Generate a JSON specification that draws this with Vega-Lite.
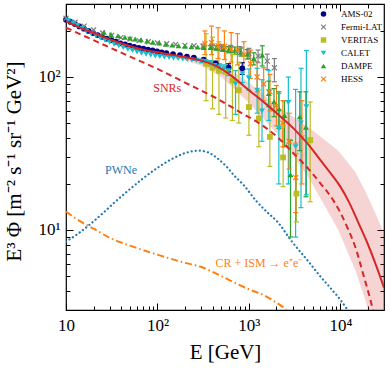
{
 "$schema": "https://vega.github.io/schema/vega-lite/v6.json",
 "width": 318, "height": 306,
 "autosize": {"type": "none"},
 "padding": {"left": 66, "top": 4, "right": 6, "bottom": 59},
 "background": "white",
 "config": {
  "view": {"stroke": "black", "strokeWidth": 1.2},
  "font": "Liberation Serif"
 },
 "datasets": {
  "tot": [{"E":10,"F":232},{"E":12,"F":220},{"E":15,"F":207},{"E":20,"F":194},{"E":25,"F":184},{"E":30,"F":176},{"E":40,"F":166},{"E":50,"F":159},{"E":70,"F":151},{"E":100,"F":145},{"E":150,"F":139},{"E":200,"F":135},{"E":300,"F":128},{"E":400,"F":121},{"E":500,"F":113},{"E":700,"F":98},{"E":1000,"F":82},{"E":1500,"F":67.5},{"E":2000,"F":58.1},{"E":3090,"F":46},{"E":4500,"F":36},{"E":6050,"F":28.6},{"E":8000,"F":23.1},{"E":10000,"F":19.2},{"E":12500,"F":15.1},{"E":15800,"F":11.1},{"E":20000,"F":8.07},{"E":24000,"F":6.1},{"E":30000,"F":4.2}],
  "snr": [{"E":10,"F":210},{"E":20,"F":174},{"E":50,"F":136},{"E":100,"F":113},{"E":200,"F":92},{"E":415,"F":74},{"E":881,"F":57},{"E":1285,"F":50},{"E":2000,"F":41},{"E":3090,"F":31.6},{"E":4500,"F":25},{"E":6050,"F":20.2},{"E":8450,"F":15.5},{"E":10000,"F":13},{"E":12000,"F":10.3},{"E":14500,"F":7.8},{"E":18000,"F":5.0},{"E":21300,"F":3.5},{"E":23000,"F":2.9},{"E":25000,"F":2.3}],
  "pwn": [{"E":10,"F":8.4},{"E":14,"F":9.6},{"E":18,"F":10.8},{"E":25,"F":12.8},{"E":35,"F":15.4},{"E":50,"F":18.5},{"E":70,"F":21.8},{"E":100,"F":25.5},{"E":150,"F":29.5},{"E":200,"F":31.8},{"E":280,"F":33},{"E":350,"F":32.3},{"E":450,"F":29.5},{"E":550,"F":26.5},{"E":700,"F":22.5},{"E":880,"F":19.6},{"E":1200,"F":15.5},{"E":1600,"F":13.0},{"E":2000,"F":11.5},{"E":3000,"F":8.3},{"E":4500,"F":6.2},{"E":6000,"F":5.0},{"E":8000,"F":4.1},{"E":10000,"F":3.5},{"E":12000,"F":3.0},{"E":13000,"F":2.8}],
  "sec": [{"E":10,"F":13.2},{"E":12,"F":12.2},{"E":15,"F":11.2},{"E":20,"F":10.2},{"E":30,"F":8.9},{"E":50,"F":7.9},{"E":100,"F":6.9},{"E":200,"F":6.1},{"E":283,"F":5.8},{"E":500,"F":5.0},{"E":658,"F":4.6},{"E":1000,"F":4.1},{"E":1520,"F":3.7},{"E":2000,"F":3.35},{"E":2600,"F":3.0},{"E":3000,"F":2.8}],
  "band": [{"E":10,"lo":230,"hi":234},{"E":30,"lo":172,"hi":179},{"E":100,"lo":139,"hi":148},{"E":200,"lo":128,"hi":140},{"E":300,"lo":119,"hi":134},{"E":500,"lo":100,"hi":123},{"E":1000,"lo":68,"hi":92},{"E":2000,"lo":43,"hi":65},{"E":4500,"lo":22,"hi":47},{"E":9500,"lo":10,"hi":33},{"E":14500,"lo":5.5,"hi":24},{"E":18700,"lo":3.5,"hi":18},{"E":24000,"lo":2.0,"hi":13},{"E":30000,"lo":1.2,"hi":9.5}],
  "labels": [{"E":128,"F":84.4,"t":"SNRs"},{"E":40,"F":24.6,"t":"PWNe"},{"E":1285,"F":6.1,"t":"CR + ISM → e⁺e⁻"}],
  "obs": [
   {"s":"AMS-02","E":10,"F":237},{"s":"AMS-02","E":11.2,"F":229},{"s":"AMS-02","E":12.5,"F":222},{"s":"AMS-02","E":14,"F":214},{"s":"AMS-02","E":15.7,"F":207},{"s":"AMS-02","E":17.6,"F":200},{"s":"AMS-02","E":19.8,"F":194},{"s":"AMS-02","E":22.2,"F":188},{"s":"AMS-02","E":24.9,"F":183},{"s":"AMS-02","E":27.9,"F":178},{"s":"AMS-02","E":31.3,"F":174},{"s":"AMS-02","E":35.1,"F":170},{"s":"AMS-02","E":39.4,"F":166},{"s":"AMS-02","E":44.2,"F":163},{"s":"AMS-02","E":49.6,"F":160},{"s":"AMS-02","E":55.7,"F":157},{"s":"AMS-02","E":62.5,"F":155},{"s":"AMS-02","E":70.2,"F":153},{"s":"AMS-02","E":78.8,"F":151},{"s":"AMS-02","E":88.4,"F":149},{"s":"AMS-02","E":99.2,"F":147},{"s":"AMS-02","E":111,"F":145},{"s":"AMS-02","E":125,"F":143},{"s":"AMS-02","E":148,"F":141},{"s":"AMS-02","E":176,"F":139},{"s":"AMS-02","E":210,"F":136},{"s":"AMS-02","E":250,"F":134},{"s":"AMS-02","E":320,"F":130},{"s":"AMS-02","E":434,"F":122,"lo":117,"hi":127},{"s":"AMS-02","E":600,"F":115,"lo":108,"hi":122},{"s":"AMS-02","E":845,"F":114,"lo":104,"hi":124},
   {"s":"Fermi-LAT","E":10,"F":242},{"s":"Fermi-LAT","E":12.6,"F":228},{"s":"Fermi-LAT","E":15.8,"F":215},{"s":"Fermi-LAT","E":20,"F":203},{"s":"Fermi-LAT","E":25.1,"F":194},{"s":"Fermi-LAT","E":31.6,"F":187},{"s":"Fermi-LAT","E":39.8,"F":181},{"s":"Fermi-LAT","E":50.1,"F":177},{"s":"Fermi-LAT","E":63.1,"F":173},{"s":"Fermi-LAT","E":79.4,"F":170},{"s":"Fermi-LAT","E":100,"F":167},{"s":"Fermi-LAT","E":126,"F":165},{"s":"Fermi-LAT","E":158,"F":163},{"s":"Fermi-LAT","E":200,"F":161},{"s":"Fermi-LAT","E":251,"F":160},{"s":"Fermi-LAT","E":316,"F":159,"lo":154,"hi":164},{"s":"Fermi-LAT","E":398,"F":158,"lo":152,"hi":164},{"s":"Fermi-LAT","E":501,"F":156,"lo":149,"hi":163},{"s":"Fermi-LAT","E":631,"F":153,"lo":145,"hi":161},{"s":"Fermi-LAT","E":794,"F":149,"lo":140,"hi":158},{"s":"Fermi-LAT","E":1000,"F":143,"lo":132,"hi":154},{"s":"Fermi-LAT","E":1259,"F":137,"lo":124,"hi":150},{"s":"Fermi-LAT","E":1585,"F":127,"lo":112,"hi":141},{"s":"Fermi-LAT","E":1900,"F":115,"lo":93,"hi":132},
   {"s":"VERITAS","E":340,"F":122,"lo":70,"hi":192},{"s":"VERITAS","E":400,"F":115,"lo":62,"hi":182},{"s":"VERITAS","E":470,"F":110,"lo":57,"hi":170},{"s":"VERITAS","E":557,"F":108,"lo":54,"hi":157},{"s":"VERITAS","E":660,"F":95,"lo":52,"hi":140},{"s":"VERITAS","E":776,"F":82,"lo":50,"hi":125},{"s":"VERITAS","E":1000,"F":63.6,"lo":41.6,"hi":102.5},{"s":"VERITAS","E":1285,"F":53.6,"lo":35,"hi":82},{"s":"VERITAS","E":1695,"F":40.6,"lo":26,"hi":65},{"s":"VERITAS","E":2366,"F":29.8,"lo":19.2,"hi":47.2},{"s":"VERITAS","E":3310,"F":17.3,"lo":11.3,"hi":31.6},{"s":"VERITAS","E":4680,"F":38.7,"lo":15.3,"hi":68.7},
   {"s":"CALET","E":10.6,"F":233},{"s":"CALET","E":11.9,"F":225},{"s":"CALET","E":13.4,"F":217},{"s":"CALET","E":15,"F":208},{"s":"CALET","E":16.8,"F":200},{"s":"CALET","E":18.9,"F":193},{"s":"CALET","E":21.2,"F":186},{"s":"CALET","E":23.8,"F":180},{"s":"CALET","E":26.7,"F":174},{"s":"CALET","E":30,"F":169},{"s":"CALET","E":33.6,"F":164},{"s":"CALET","E":37.7,"F":160},{"s":"CALET","E":42.3,"F":156},{"s":"CALET","E":47.5,"F":152},{"s":"CALET","E":53.3,"F":149},{"s":"CALET","E":59.8,"F":146},{"s":"CALET","E":67,"F":143},{"s":"CALET","E":75.2,"F":141},{"s":"CALET","E":84.4,"F":139},{"s":"CALET","E":94.7,"F":137},{"s":"CALET","E":106,"F":136},{"s":"CALET","E":119,"F":135},{"s":"CALET","E":134,"F":134},{"s":"CALET","E":150,"F":133},{"s":"CALET","E":168,"F":132},{"s":"CALET","E":189,"F":131},{"s":"CALET","E":212,"F":130},{"s":"CALET","E":238,"F":129},{"s":"CALET","E":267,"F":128},{"s":"CALET","E":300,"F":127,"lo":124,"hi":130},{"s":"CALET","E":336,"F":126,"lo":122,"hi":130},{"s":"CALET","E":377,"F":123,"lo":118,"hi":128},{"s":"CALET","E":423,"F":119,"lo":114,"hi":125},{"s":"CALET","E":475,"F":116,"lo":110,"hi":122},{"s":"CALET","E":533,"F":113,"lo":106,"hi":120},{"s":"CALET","E":598,"F":110,"lo":102,"hi":118},{"s":"CALET","E":714,"F":90,"lo":57,"hi":110},{"s":"CALET","E":850,"F":105,"lo":92,"hi":117},{"s":"CALET","E":1000,"F":98,"lo":82,"hi":113},{"s":"CALET","E":1230,"F":82,"lo":58,"hi":114},{"s":"CALET","E":1390,"F":60,"lo":38,"hi":96},{"s":"CALET","E":1650,"F":80,"lo":52,"hi":110},{"s":"CALET","E":2125,"F":46,"lo":20,"hi":78},{"s":"CALET","E":2700,"F":68,"lo":20,"hi":100},{"s":"CALET","E":3240,"F":35,"lo":9,"hi":83},{"s":"CALET","E":3710,"F":50,"lo":14,"hi":114},{"s":"CALET","E":4250,"F":64,"lo":17,"hi":149},
   {"s":"DAMPE","E":26,"F":196},{"s":"DAMPE","E":31,"F":190},{"s":"DAMPE","E":37,"F":186},{"s":"DAMPE","E":44,"F":182},{"s":"DAMPE","E":50,"F":180},{"s":"DAMPE","E":57,"F":177},{"s":"DAMPE","E":66,"F":175},{"s":"DAMPE","E":77,"F":172},{"s":"DAMPE","E":89,"F":169},{"s":"DAMPE","E":105,"F":167},{"s":"DAMPE","E":123,"F":164},{"s":"DAMPE","E":145,"F":162},{"s":"DAMPE","E":170,"F":160},{"s":"DAMPE","E":200,"F":159},{"s":"DAMPE","E":235,"F":158},{"s":"DAMPE","E":275,"F":157},{"s":"DAMPE","E":320,"F":156,"lo":153,"hi":159},{"s":"DAMPE","E":380,"F":156,"lo":152,"hi":160},{"s":"DAMPE","E":440,"F":155,"lo":150,"hi":160},{"s":"DAMPE","E":520,"F":153,"lo":147,"hi":159},{"s":"DAMPE","E":600,"F":151,"lo":144,"hi":158},{"s":"DAMPE","E":700,"F":149,"lo":141,"hi":157},{"s":"DAMPE","E":820,"F":146,"lo":137,"hi":155},{"s":"DAMPE","E":960,"F":141,"lo":131,"hi":151},{"s":"DAMPE","E":1130,"F":132,"lo":120,"hi":144},{"s":"DAMPE","E":1400,"F":139,"lo":118,"hi":160},{"s":"DAMPE","E":1650,"F":78,"lo":64,"hi":94},{"s":"DAMPE","E":1880,"F":69,"lo":55,"hi":84},{"s":"DAMPE","E":2130,"F":62,"lo":46,"hi":80},{"s":"DAMPE","E":2450,"F":56,"lo":35,"hi":70},{"s":"DAMPE","E":2850,"F":23,"lo":9,"hi":38.6},{"s":"DAMPE","E":3600,"F":55,"lo":33,"hi":80},{"s":"DAMPE","E":4200,"F":47,"lo":16.5,"hi":80},
   {"s":"HESS","E":330,"F":165,"lo":140,"hi":200},{"s":"HESS","E":390,"F":168,"lo":140,"hi":215},{"s":"HESS","E":460,"F":160,"lo":132,"hi":210},{"s":"HESS","E":540,"F":158,"lo":130,"hi":200},{"s":"HESS","E":640,"F":152,"lo":125,"hi":195},{"s":"HESS","E":750,"F":150,"lo":120,"hi":192},{"s":"HESS","E":880,"F":140,"lo":112,"hi":170},{"s":"HESS","E":1040,"F":122,"lo":98,"hi":150},{"s":"HESS","E":1230,"F":100,"lo":80,"hi":126},{"s":"HESS","E":1450,"F":90,"lo":70,"hi":115},{"s":"HESS","E":1700,"F":80,"lo":60,"hi":104},{"s":"HESS","E":2000,"F":65,"lo":48,"hi":88},{"s":"HESS","E":2350,"F":50,"lo":35,"hi":70},{"s":"HESS","E":2750,"F":38,"lo":25,"hi":58},{"s":"HESS","E":3250,"F":22,"lo":13,"hi":37},{"s":"HESS","E":3800,"F":40,"lo":20,"hi":70}
  ]
 },
 "resolve": {"axis": {"x": "independent", "y": "independent"}},
 "layer": [
  {
   "data": {"name": "band"},
   "mark": {"type": "area", "color": "#d62728", "opacity": 0.2, "clip": true},
   "encoding": {
    "x": {"field": "E", "type": "quantitative", "scale": {"type": "log", "domain": [10, 30000], "nice": false},
     "axis": {"orient": "bottom", "values": [10,20,30,40,50,60,70,80,90,100,200,300,400,500,600,700,800,900,1000,2000,3000,4000,5000,6000,7000,8000,9000,10000,20000],
      "labelExpr": "datum.value==10?'10':datum.value==100?'10²':datum.value==1000?'10³':datum.value==10000?'10⁴':''",
      "tickSize": {"condition": {"test": "datum.value==10||datum.value==100||datum.value==1000||datum.value==10000", "value": -7}, "value": -4},
      "tickColor": "black", "tickWidth": 1, "grid": false, "domain": false,
      "labelFont": "Liberation Serif", "labelFontSize": 17, "labelColor": "black", "labelFlush": false, "labelOverlap": false, "labelBound": false,
      "labelPadding": 14, "title": "E [GeV]", "titleFont": "Liberation Serif", "titleFontSize": 21, "titleFontWeight": "normal", "titleColor": "black",
      "titleAnchor": "middle", "titleAlign": "center", "titleBaseline": "middle", "titleX": 159, "titleY": 42}},
    "y": {"field": "lo", "type": "quantitative", "scale": {"type": "log", "domain": [3, 300], "nice": false},
     "axis": {"orient": "left", "values": [4,5,6,7,8,9,10,20,30,40,50,60,70,80,90,100,200],
      "labelExpr": "datum.value==10?'10¹':datum.value==100?'10²':''",
      "tickSize": {"condition": {"test": "datum.value==10||datum.value==100", "value": -7}, "value": -4},
      "tickColor": "black", "tickWidth": 1, "grid": false, "domain": false,
      "labelFont": "Liberation Serif", "labelFontSize": 17, "labelColor": "black", "labelOverlap": false, "labelBound": false,
      "labelPadding": 13, "title": "E³ Φ [m⁻² s⁻¹ sr⁻¹ GeV²]", "titleFont": "Liberation Serif", "titleFontSize": 21, "titleFontWeight": "normal", "titleColor": "black",
      "titleAnchor": "middle", "titleAlign": "center", "titleBaseline": "middle", "titleAngle": -90, "titleX": -52, "titleY": 157}},
    "y2": {"field": "hi"}
   }
  },
  {
   "data": {"name": "obs"},
   "transform": [{"filter": "isValid(datum.lo)"}],
   "mark": {"type": "rule", "strokeWidth": 1.2},
   "encoding": {
    "x": {"field": "E", "type": "quantitative", "scale": {"type": "log", "domain": [10, 30000], "nice": false}, "axis": null},
    "y": {"field": "lo", "type": "quantitative", "scale": {"type": "log", "domain": [3, 300], "nice": false}, "axis": null},
    "y2": {"field": "hi"},
    "color": {"condition": [{"test": "datum.s=='AMS-02'", "value": "#00008b"}, {"test": "datum.s=='Fermi-LAT'", "value": "#7f7f7f"}, {"test": "datum.s=='VERITAS'", "value": "#bcbd22"}, {"test": "datum.s=='CALET'", "value": "#17becf"}, {"test": "datum.s=='DAMPE'", "value": "#2ca02c"}], "value": "#ff7f0e"}
   }
  },
  {
   "data": {"name": "obs"},
   "transform": [{"filter": "isValid(datum.lo)"}],
   "mark": {"type": "tick", "orient": "horizontal", "size": 5, "thickness": 1.2, "opacity": 1},
   "encoding": {
    "x": {"field": "E", "type": "quantitative", "scale": {"type": "log", "domain": [10, 30000], "nice": false}, "axis": null},
    "y": {"field": "lo", "type": "quantitative", "scale": {"type": "log", "domain": [3, 300], "nice": false}, "axis": null},
    "color": {"condition": [{"test": "datum.s=='AMS-02'", "value": "#00008b"}, {"test": "datum.s=='Fermi-LAT'", "value": "#7f7f7f"}, {"test": "datum.s=='VERITAS'", "value": "#bcbd22"}, {"test": "datum.s=='CALET'", "value": "#17becf"}, {"test": "datum.s=='DAMPE'", "value": "#2ca02c"}], "value": "#ff7f0e"}
   }
  },
  {
   "data": {"name": "obs"},
   "transform": [{"filter": "isValid(datum.lo)"}],
   "mark": {"type": "tick", "orient": "horizontal", "size": 5, "thickness": 1.2, "opacity": 1},
   "encoding": {
    "x": {"field": "E", "type": "quantitative", "scale": {"type": "log", "domain": [10, 30000], "nice": false}, "axis": null},
    "y": {"field": "hi", "type": "quantitative", "scale": {"type": "log", "domain": [3, 300], "nice": false}, "axis": null},
    "color": {"condition": [{"test": "datum.s=='AMS-02'", "value": "#00008b"}, {"test": "datum.s=='Fermi-LAT'", "value": "#7f7f7f"}, {"test": "datum.s=='VERITAS'", "value": "#bcbd22"}, {"test": "datum.s=='CALET'", "value": "#17becf"}, {"test": "datum.s=='DAMPE'", "value": "#2ca02c"}], "value": "#ff7f0e"}
   }
  },
  {
   "data": {"name": "obs"},
   "mark": {"type": "point", "filled": true, "size": 34, "opacity": 1},
   "encoding": {
    "x": {"field": "E", "type": "quantitative", "scale": {"type": "log", "domain": [10, 30000], "nice": false}, "axis": null},
    "y": {"field": "F", "type": "quantitative", "scale": {"type": "log", "domain": [3, 300], "nice": false}, "axis": null},
    "color": {"field": "s", "type": "nominal", "scale": {"domain": ["AMS-02","Fermi-LAT","VERITAS","CALET","DAMPE","HESS"], "range": ["#00008b","#7f7f7f","#bcbd22","#17becf","#2ca02c","#ff7f0e"]},
     "legend": {"orient": "none", "legendX": 253, "legendY": 5.5, "title": null, "labelFont": "Liberation Serif", "labelFontSize": 9, "labelColor": "black", "labelOffset": 13, "rowPadding": 3, "padding": 0, "symbolSize": 30}},
    "shape": {"field": "s", "type": "nominal", "scale": {"domain": ["AMS-02","Fermi-LAT","VERITAS","CALET","DAMPE","HESS"], "range": ["circle","M-1,-0.7L-0.7,-1L0,-0.3L0.7,-1L1,-0.7L0.3,0L1,0.7L0.7,1L0,0.3L-0.7,1L-1,0.7L-0.3,0Z","square","triangle-down","triangle-up","M-1,-0.7L-0.7,-1L0,-0.3L0.7,-1L1,-0.7L0.3,0L1,0.7L0.7,1L0,0.3L-0.7,1L-1,0.7L-0.3,0Z"]},
     "legend": {"orient": "none", "legendX": 253, "legendY": 5.5, "title": null, "labelFont": "Liberation Serif", "labelFontSize": 9, "labelColor": "black", "labelOffset": 13, "rowPadding": 3, "padding": 0, "symbolSize": 30}}
   }
  },
  {
   "data": {"name": "tot"},
   "mark": {"type": "line", "color": "#d62728", "strokeWidth": 2, "interpolate": "monotone", "clip": true},
   "encoding": {
    "x": {"field": "E", "type": "quantitative", "scale": {"type": "log", "domain": [10, 30000], "nice": false}, "axis": null},
    "y": {"field": "F", "type": "quantitative", "scale": {"type": "log", "domain": [3, 300], "nice": false}, "axis": null}
   }
  },
  {
   "data": {"name": "snr"},
   "mark": {"type": "line", "color": "#d62728", "strokeWidth": 2, "strokeDash": [6, 4], "interpolate": "monotone", "clip": true},
   "encoding": {
    "x": {"field": "E", "type": "quantitative", "scale": {"type": "log", "domain": [10, 30000], "nice": false},
     "axis": {"orient": "top", "values": [10,20,30,40,50,60,70,80,90,100,200,300,400,500,600,700,800,900,1000,2000,3000,4000,5000,6000,7000,8000,9000,10000,20000], "labels": false, "title": null, "grid": false, "domain": false, "tickColor": "black", "tickWidth": 1,
      "tickSize": {"condition": {"test": "datum.value==10||datum.value==100||datum.value==1000||datum.value==10000", "value": -7}, "value": -4}}},
    "y": {"field": "F", "type": "quantitative", "scale": {"type": "log", "domain": [3, 300], "nice": false},
     "axis": {"orient": "right", "values": [4,5,6,7,8,9,10,20,30,40,50,60,70,80,90,100,200], "labels": false, "title": null, "grid": false, "domain": false, "tickColor": "black", "tickWidth": 1,
      "tickSize": {"condition": {"test": "datum.value==10||datum.value==100", "value": -7}, "value": -4}}}
   }
  },
  {
   "data": {"name": "pwn"},
   "mark": {"type": "line", "color": "#1f77b4", "strokeWidth": 2.2, "strokeDash": [0.1, 4], "strokeCap": "round", "interpolate": "monotone", "clip": true},
   "encoding": {
    "x": {"field": "E", "type": "quantitative", "scale": {"type": "log", "domain": [10, 30000], "nice": false}, "axis": null},
    "y": {"field": "F", "type": "quantitative", "scale": {"type": "log", "domain": [3, 300], "nice": false}, "axis": null}
   }
  },
  {
   "data": {"name": "sec"},
   "mark": {"type": "line", "color": "#ff7f0e", "strokeWidth": 2, "strokeDash": [7, 3, 1.5, 3], "interpolate": "monotone", "clip": true},
   "encoding": {
    "x": {"field": "E", "type": "quantitative", "scale": {"type": "log", "domain": [10, 30000], "nice": false}, "axis": null},
    "y": {"field": "F", "type": "quantitative", "scale": {"type": "log", "domain": [3, 300], "nice": false}, "axis": null}
   }
  },
  {
   "data": {"name": "labels"},
   "transform": [{"filter": "datum.t=='SNRs'"}],
   "mark": {"type": "text", "font": "Liberation Serif", "fontSize": 12, "align": "center", "baseline": "middle", "color": "#d62728"},
   "encoding": {
    "x": {"field": "E", "type": "quantitative", "scale": {"type": "log", "domain": [10, 30000], "nice": false}, "axis": null},
    "y": {"field": "F", "type": "quantitative", "scale": {"type": "log", "domain": [3, 300], "nice": false}, "axis": null},
    "text": {"field": "t"}
   }
  },
  {
   "data": {"name": "labels"},
   "transform": [{"filter": "datum.t=='PWNe'"}],
   "mark": {"type": "text", "font": "Liberation Serif", "fontSize": 12, "align": "center", "baseline": "middle", "color": "#1f77b4"},
   "encoding": {
    "x": {"field": "E", "type": "quantitative", "scale": {"type": "log", "domain": [10, 30000], "nice": false}, "axis": null},
    "y": {"field": "F", "type": "quantitative", "scale": {"type": "log", "domain": [3, 300], "nice": false}, "axis": null},
    "text": {"field": "t"}
   }
  },
  {
   "data": {"name": "labels"},
   "transform": [{"filter": "datum.t!='SNRs'&&datum.t!='PWNe'"}],
   "mark": {"type": "text", "font": "Liberation Serif", "fontSize": 12, "align": "center", "baseline": "middle", "color": "#ff7f0e"},
   "encoding": {
    "x": {"field": "E", "type": "quantitative", "scale": {"type": "log", "domain": [10, 30000], "nice": false}, "axis": null},
    "y": {"field": "F", "type": "quantitative", "scale": {"type": "log", "domain": [3, 300], "nice": false}, "axis": null},
    "text": {"field": "t"}
   }
  }
 ]
}
